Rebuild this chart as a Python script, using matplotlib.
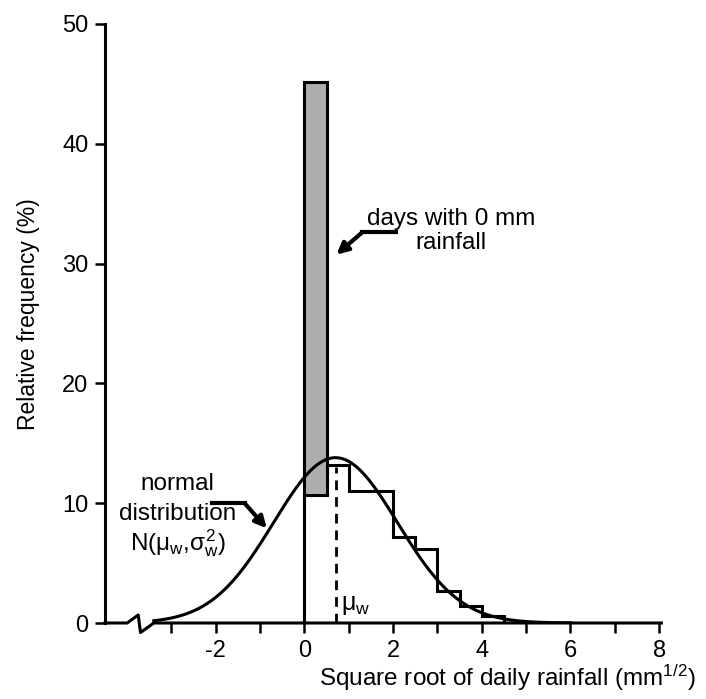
import numpy as np
import matplotlib.pyplot as plt

plt.rcParams['font.family'] = ['Liberation Sans', 'DejaVu Sans']
plt.rcParams['mathtext.fontset'] = 'custom'
plt.rcParams['mathtext.rm'] = 'Liberation Sans'
plt.rcParams['mathtext.it'] = 'Liberation Sans'
plt.rcParams['mathtext.bf'] = 'Liberation Sans:bold'

# histogram of square-root rainfall on wet days (% per 0.5 bin)
bin_edges = [0.0, 0.5, 1.0, 1.5, 2.0, 2.5, 3.0, 3.5, 4.0, 4.5]
wet_freq = [10.7, 13.2, 11.0, 11.0, 7.2, 6.2, 2.7, 1.4, 0.6]
# dry days stacked on first bin
dry_freq = 34.5

# fitted normal distribution
mu_w = 0.7
sigma_w = 1.4
peak = 13.8

x_ticks = list(range(-3, 9))
x_ticklabels = ['' if t % 2 else str(t) for t in x_ticks]
y_ticks = [0, 10, 20, 30, 40, 50]

fig = plt.figure(figsize=(7.06, 6.99), dpi=100)
ax = fig.add_axes([105 / 706, 76 / 699, 563 / 706, 599 / 699])

# normal curve
xc = np.linspace(-3.4, 6.0, 400)
yc = peak * np.exp(-(xc - mu_w) ** 2 / (2 * sigma_w ** 2))
ax.plot(xc, yc, color='black', lw=2.2, zorder=3)

# histogram outline + dry-day bar
ax.stairs(wet_freq, bin_edges, color='black', lw=2.2, zorder=2)
ax.bar(0.25, dry_freq, width=0.5, bottom=wet_freq[0], facecolor='#adadad',
       edgecolor='black', lw=2.2, zorder=2)
ax.plot([0, 0], [0, wet_freq[0]], color='black', lw=2.2, zorder=2)

# mean marker
ax.plot([mu_w, mu_w], [0, 13.0], color='black', lw=2.0, ls=(0, (3.5, 2.5)), zorder=2)
ax.text(mu_w + 0.12, 1.5, r'$\mu_w$', fontsize=18, va='center', ha='left')

# x axis with break
ax.plot([-4.5, -4.0, -3.75, -3.7, -3.4, 8.05], [0, 0, 0.67, -0.8, 0, 0],
        color='black', lw=2.2, clip_on=False, zorder=4)

# annotations
ax.text(3.3, 32.7, 'days with 0 mm\nrainfall', fontsize=17.5, ha='center',
        va='center', linespacing=1.1)
ax.plot([2.07, 1.3], [32.6, 32.6], color='black', lw=3)
ax.annotate('', xy=(0.72, 30.75), xytext=(1.3, 32.6),
            arrowprops=dict(arrowstyle='-|>', color='black', lw=3,
                            mutation_scale=17, shrinkA=0, shrinkB=0))

ax.text(-2.86, 11.6, 'normal', fontsize=17.5, ha='center', va='center')
ax.text(-2.86, 9.1, 'distribution', fontsize=17.5, ha='center', va='center')
ax.text(-2.86, 6.7, r'N($\mu_w$,$\sigma_w^2$)', fontsize=17.5, ha='center', va='center')
ax.plot([-2.09, -1.35], [10.0, 10.0], color='black', lw=3)
ax.annotate('', xy=(-0.85, 7.9), xytext=(-1.35, 10.0),
            arrowprops=dict(arrowstyle='-|>', color='black', lw=3,
                            mutation_scale=17, shrinkA=0, shrinkB=0))

ax.set_xlim(-4.5, 8.2)
ax.set_ylim(0, 50)
ax.set_xticks(x_ticks)
ax.set_xticklabels(x_ticklabels)
ax.set_yticks(y_ticks)
ax.tick_params(direction='out', length=7, width=1.8, labelsize=17, pad=5)
for s in ['top', 'right', 'bottom']:
    ax.spines[s].set_visible(False)
ax.spines['left'].set_linewidth(2.2)

ax.set_xlabel('Square root of daily rainfall (mm$^{1/2}$)', fontsize=17.5,
              x=0.715, labelpad=1)
ax.set_ylabel('Relative frequency (%)', fontsize=16.5, labelpad=16, y=0.515)

fig.savefig('out.png', dpi=100)
